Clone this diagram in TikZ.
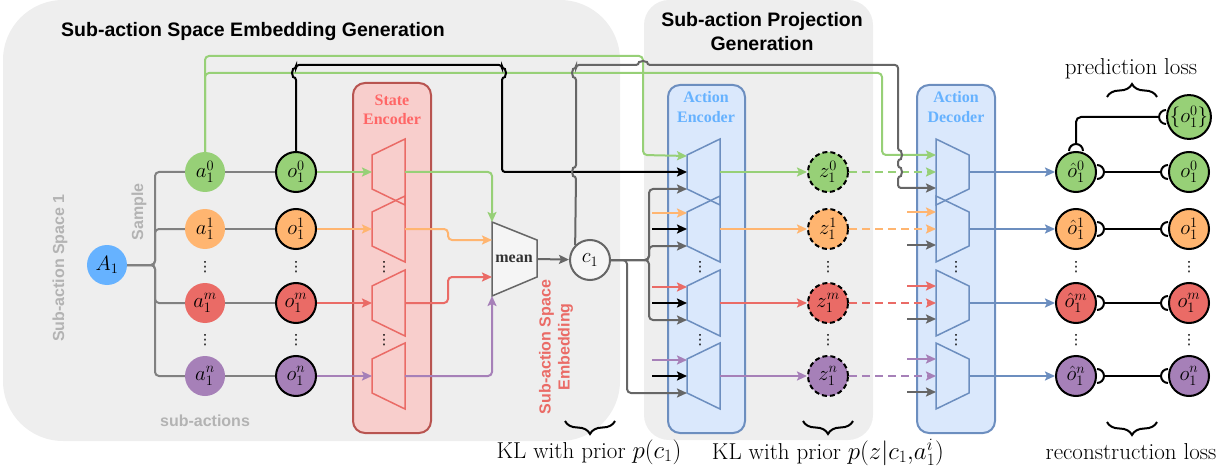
\documentclass[tikz,border=0pt]{standalone}
\usepackage{fontspec}
\setsansfont{Liberation Sans}
\newfontfamily\tms{Liberation Serif}
\newfontfamily\djv{DejaVu Sans}
\usepackage{tikz}
\usetikzlibrary{shapes}
\usetikzlibrary{arrows.meta}
\usetikzlibrary{decorations.pathreplacing}

\definecolor{cgreen}{HTML}{97D077}
\definecolor{corange}{HTML}{FFB570}
\definecolor{cred}{HTML}{EA6B66}
\definecolor{cpurple}{HTML}{A680B8}
\definecolor{cblue}{HTML}{66B2FF}
\definecolor{encfill}{HTML}{DAE8FC}
\definecolor{encline}{HTML}{6C8EBF}
\definecolor{stfill}{HTML}{F8CECC}
\definecolor{stline}{HTML}{B85450}
\definecolor{sttext}{HTML}{FF6666}
\definecolor{bgfill}{HTML}{EEEEEE}
\definecolor{lblgray}{HTML}{B3B3B3}
\definecolor{wirec}{HTML}{808080}
\definecolor{wiredk}{HTML}{666666}
\definecolor{meanfill}{HTML}{F5F5F5}

\begin{document}
\begin{tikzpicture}[x=1pt,y=-1pt,
	every node/.style={inner sep=0pt},
	lbl/.style={font=\sffamily\bfseries\fontsize{16}{19}\selectfont,text=lblgray},
	title/.style={font=\sffamily\bfseries\fontsize{19.5}{24}\selectfont,align=center},
	boxlbl/.style={font=\tms\bfseries\fontsize{16}{19.5}\selectfont,align=center},
	var/.style={circle,minimum size=40pt,font=\fontsize{20.74}{20.74}\selectfont,fill=#1},
	obs/.style={var=#1,draw=black,line width=2pt},
	lat/.style={var=#1,draw=black,line width=2pt,dash pattern=on 5pt off 3pt},
	wire/.style={line width=2pt,draw=#1,rounded corners=4pt},
	arr/.style={wire=#1,-{Stealth[length=10pt,width=9pt,inset=2pt]}},
	trap/.style={line width=1.5pt,draw=#1},
	dots/.style={font=\djv\fontsize{14}{14}\selectfont},
	capln/.style={line width=2pt,draw=black},
	brc/.style={decorate,decoration={brace,amplitude=13pt},line width=2pt},
	loss/.style={font=\fontsize{23}{27}\selectfont}
	]
	\useasboundingbox (0,0) rectangle (1223,473);
	\fill[bgfill,rounded corners=60pt] (3,0) rectangle (620,441);
	\fill[bgfill,rounded corners=25pt] (644,0) rectangle (873,440);
	\node[title] (ttl1) at (253,32) {Sub-action Space Embedding Generation};
	\node[title] (ttl2) at (762,32) {Sub-action Projection\\Generation};

	\draw[stline,fill=stfill,line width=2pt,rounded corners=12pt] (353,83) rectangle (431,433);
	\node[boxlbl,text=sttext] (stl) at (392,110) {State\\Encoder};
	\draw[encline,fill=encfill,line width=2pt,rounded corners=12pt] (668,85) rectangle (745,433);
	\node[boxlbl,text=cblue] (ael) at (706,107) {Action\\Encoder};
	\draw[encline,fill=encfill,line width=2pt,rounded corners=12pt] (917,85) rectangle (995,433);
	\node[boxlbl,text=cblue] (adl) at (956,107) {Action\\Decoder};

	\foreach \y in {172,229,303,376}{
		\draw[trap=cred] (372,\y-17) -- (405,\y-33) -- (405,\y+33) -- (372,\y+17) -- cycle;
		\draw[trap=encline] (687,\y-17) -- (720,\y-33) -- (720,\y+33) -- (687,\y+17) -- cycle;
		\draw[trap=encline] (936,\y-33) -- (969,\y-17) -- (969,\y+17) -- (936,\y+33) -- cycle;
	}
	\draw[draw=wiredk,fill=meanfill,line width=1.5pt] (492,222) -- (537,240) -- (537,277) -- (492,296) -- cycle;
	\node[font=\tms\bfseries\fontsize{16}{16}\selectfont,text=black!80] (mean) at (514,259) {mean};
	\coordinate (mtop) at (492,222);
	\coordinate (mbot) at (492,296);
	\coordinate (min1) at (492,240);
	\coordinate (minm) at (492,277);
	\coordinate (mout) at (537,259);

	\node[var=cblue] (A1) at (107,265) {$A_1$};
	\node[obs=meanfill,draw=wiredk] (c1) at (590,260) {$c_1$};
	\node[var=cgreen,draw=black,line width=2pt] (obp) at (1189,117) {$\{o_1^0\}$};

	\foreach \i/\y/\c in {0/172/cgreen,1/229/corange,m/303/cred,n/376/cpurple}{
		\node[var=\c] (a\i) at (205,\y) {$a_1^{\i}$};
		\node[obs=\c] (o\i) at (296,\y) {$o_1^{\i}$};
		\node[lat=\c] (z\i) at (828,\y) {$z_1^{\i}$};
		\node[obs=\c] (oh\i) at (1076,\y) {$\hat{o}_1^{\i}$};
		\node[obs=\c] (ob\i) at (1189,\y) {$o_1^{\i}$};
		\coordinate (sein\i) at (372,\y);
		\coordinate (se\i) at (405,\y);
		\coordinate (aea\i) at (687,\y-16);
		\coordinate (aeo\i) at (687,\y);
		\coordinate (aec\i) at (687,\y+17);
		\coordinate (ae\i) at (720,\y);
		\coordinate (ada\i) at (936,\y-17);
		\coordinate (adz\i) at (936,\y);
		\coordinate (adc\i) at (936,\y+16);
		\coordinate (ad\i) at (969,\y);
		\draw[wire=wirec] (A1) -- (155,265) |- (a\i);
		\draw[wire=wirec] (a\i) -- (o\i);
		\draw[arr=\c] (o\i) -- (sein\i);
		\draw[arr=\c] (ae\i) -- (z\i);
		\draw[arr=\c,dash pattern=on 8pt off 5pt] (z\i) -- (adz\i);
		\draw[arr=encline] (ad\i) -- (oh\i);
		\draw[capln] (oh\i.east) ++(0,-7) arc(-90:90:7);
		\draw[capln] (ob\i.west) ++(0,-7) arc(270:90:7);
		\draw[capln] ([xshift=7pt]oh\i.east) -- ([xshift=-7pt]ob\i.west);
	}
	\foreach \i/\y/\c in {1/229/corange,m/303/cred,n/376/cpurple}{
		\coordinate (fa\i) at (652,\y-16);
		\coordinate (fo\i) at (652,\y);
		\coordinate (ga\i) at (907,\y-17);
		\coordinate (gc\i) at (907,\y+16);
		\draw[arr=\c] (fa\i) -- (aea\i);
		\draw[arr=black] (fo\i) -- (aeo\i);
		\draw[arr=\c] (ga\i) -- (ada\i);
		\draw[arr=wiredk] (gc\i) -- (adc\i);
	}
	\foreach \x in {205,296,384,700,828,956,1076,1189}
		\foreach \y in {267,340}
			\node[dots] (d\x-\y) at (\x,\y) {⋮};

	\draw[arr=cgreen] (se0) -| (mtop);
	\draw[arr=corange] (se1) -- (448,229) |- (min1);
	\draw[arr=cred] (sem) -- (448,303) |- (minm);
	\draw[arr=cpurple] (sen) -| (mbot);
	\draw[arr=wiredk] (mout) -- (c1);
	\draw[arr=wiredk] (c1.east) -- (627,260) |- (aecn);
	\foreach \i in {0,1,m}
		\draw[arr=wiredk] (c1.east) -- (649,260) |- (aec\i);

	\draw[arr=cgreen] (a0) -- (205,56) -- (643,56) -- (643,155) -- (aea0);
	\draw[arr=cgreen] (a0) -- (205,73) -- (882,73) -- (882,155) -- (ada0);
	\draw[arr=black,rounded corners=3pt] (o0) -- (296,77) arc(90:270:4) -- (296,65) -- (502,65) -- (502,69) arc(-90:90:4) -- (502,172) -- (aeo0);
	\draw[arr=wiredk,rounded corners=3pt] (c1.north west) -- (576,176) arc(90:270:4) -- (576,77) arc(90:270:4) -- (576,65) -- (639,65) arc(180:360:4) -- (898,65) -- (898,151) arc(-90:90:4) -- (898,168) arc(-90:90:4) -- (898,188) -- (adc0);

	\draw[capln] (oh0.north) ++(-7,0) arc(180:360:7);
	\draw[capln] (obp.west) ++(0,-7) arc(270:90:7);
	\draw[capln,rounded corners=5pt] ([yshift=7pt]oh0.north) |- ([xshift=-7pt]obp.west);

	\draw[brc] (615,421) -- (565,421);
	\draw[brc] (853,421) -- (803,421);
	\draw[brc] (1157,422) -- (1107,422);
	\draw[brc] (1107,97) -- (1157,97);
	\node[loss] (kl1) at (589,452) {KL with prior $p(c_1)$};
	\node[loss] (kl2) at (828,452) {KL with prior $p(z|c_1{,}a_1^i)$};
	\node[loss] (rec) at (1131,452) {reconstruction loss};
	\node[loss] (pred) at (1131,69) {prediction loss};

	\node[lbl,rotate=90] (sas) at (60,268) {Sub-action Space 1};
	\node[lbl,rotate=90] (smp) at (139,212) {Sample};
	\node[lbl] (subs) at (205,421) {sub-actions};
	\node[lbl,text=cred,rotate=90,align=center] (emb) at (556,347) {Sub-action Space\\Embedding};
\end{tikzpicture}
\end{document}
